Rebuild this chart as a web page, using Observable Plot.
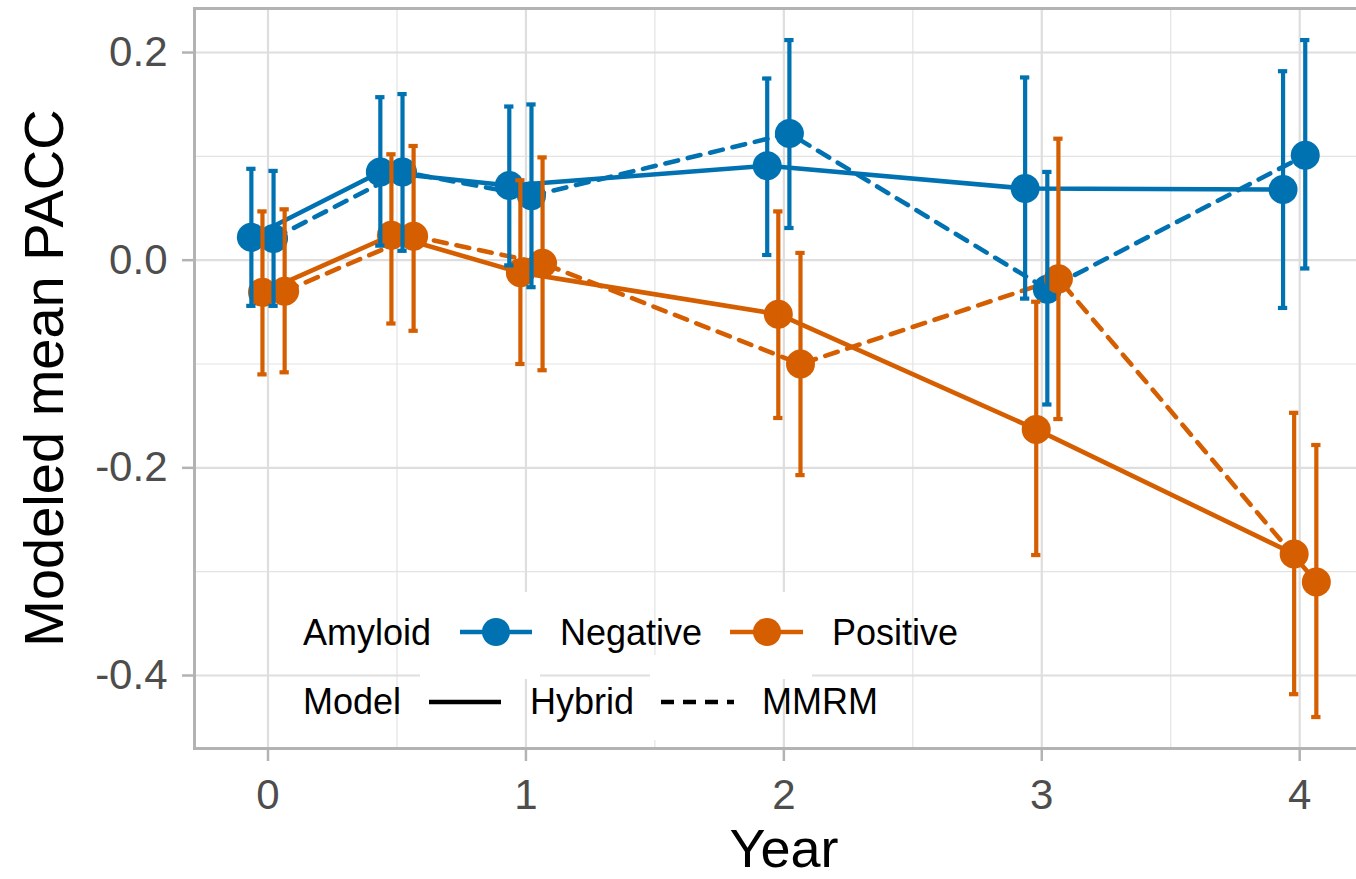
<!DOCTYPE html>
<html>
<head>
<meta charset="utf-8">
<script src="https://cdn.jsdelivr.net/npm/d3@7"></script>
<script src="https://cdn.jsdelivr.net/npm/@observablehq/plot@0.6"></script>
<style>
  body { margin: 0; background: #fff; overflow: hidden; }
  #chart { position: relative; width: 1356px; height: 879px; }
</style>
</head>
<body>
<div id="chart"></div>
<script>
// ---- Data ----
const years = [0, 0.5, 1, 2, 3, 4];
const amyloidLevels = ["Negative", "Positive"];
const modelLevels = ["Hybrid", "MMRM"];
const amyloidColors = ["#0072B2", "#D55E00"];

const negHybridMean = [0.022, 0.085, 0.072, 0.091, 0.069, 0.068];
const negHybridLo   = [-0.044, 0.014, -0.005, 0.005, -0.037, -0.046];
const negHybridHi   = [0.088, 0.157, 0.148, 0.175, 0.176, 0.182];

const negMMRMMean = [0.021, 0.085, 0.062, 0.122, -0.028, 0.101];
const negMMRMLo   = [-0.044, 0.009, -0.026, 0.031, -0.139, -0.008];
const negMMRMHi   = [0.086, 0.160, 0.150, 0.212, 0.085, 0.212];

const posHybridMean = [-0.031, 0.024, -0.012, -0.052, -0.163, -0.283];
const posHybridLo   = [-0.110, -0.061, -0.100, -0.152, -0.284, -0.418];
const posHybridHi   = [0.047, 0.102, 0.077, 0.047, -0.040, -0.147];

const posMMRMMean = [-0.030, 0.023, -0.003, -0.100, -0.018, -0.310];
const posMMRMLo   = [-0.108, -0.068, -0.106, -0.207, -0.153, -0.440];
const posMMRMHi   = [0.049, 0.110, 0.099, 0.007, 0.117, -0.178];

const xTicks = [0, 1, 2, 3, 4];
const xMinorTicks = [0.5, 1.5, 2.5, 3.5];
const yTicks = [-0.4, -0.2, 0, 0.2];
const yMinorTicks = [-0.3, -0.1, 0.1];

// ---- Build table (dodged like ggplot position_dodge) ----
const seriesList = [
  {amyloid: "Negative", model: "Hybrid", mean: negHybridMean, lo: negHybridLo, hi: negHybridHi},
  {amyloid: "Positive", model: "Hybrid", mean: posHybridMean, lo: posHybridLo, hi: posHybridHi},
  {amyloid: "Negative", model: "MMRM",   mean: negMMRMMean,   lo: negMMRMLo,   hi: negMMRMHi},
  {amyloid: "Positive", model: "MMRM",   mean: posMMRMMean,   lo: posMMRMLo,   hi: posMMRMHi}
];
const dodgeWidth = 0.172;
const capHalf = 0.018;
const rows = [];
seriesList.forEach((s, i) => {
  const off = (i - (seriesList.length - 1) / 2) * dodgeWidth / seriesList.length;
  years.forEach((yr, j) => {
    rows.push({
      amyloid: s.amyloid, model: s.model, key: s.amyloid + "-" + s.model, order: i,
      year: yr, xd: yr + off, mean: s.mean[j], lo: s.lo[j], hi: s.hi[j]
    });
  });
});
const hybridRows = rows.filter(d => d.model === "Hybrid");
const mmrmRows = rows.filter(d => d.model === "MMRM");
const ebRows = rows.slice().sort((a, b) => (a.amyloid === b.amyloid ? a.order - b.order : (a.amyloid === "Negative" ? -1 : 1)));

const W = 1356, H = 879;
const FONT = "'Liberation Sans', Arial, Helvetica, sans-serif";

const plot = Plot.plot({
  width: W,
  height: H,
  marginLeft: 194,
  marginTop: 8,
  marginBottom: 131,
  marginRight: -18,
  style: {fontFamily: FONT, background: "white", overflow: "hidden"},
  x: {domain: [-0.285, 4.29], label: null},
  y: {domain: [-0.4703, 0.2424], label: null},
  color: {domain: amyloidLevels, range: amyloidColors},
  marks: [
    Plot.gridX(xMinorTicks, {stroke: "#E3E3E3", strokeOpacity: 1, strokeWidth: 1.2}),
    Plot.gridY(yMinorTicks, {stroke: "#E3E3E3", strokeOpacity: 1, strokeWidth: 1.2}),
    Plot.gridX(xTicks, {stroke: "#DEDEDE", strokeOpacity: 1, strokeWidth: 2.2}),
    Plot.gridY(yTicks, {stroke: "#DEDEDE", strokeOpacity: 1, strokeWidth: 2.2}),
    Plot.axisY({ticks: yTicks, tickSize: 12, stroke: "#B3B3B3", strokeWidth: 2.5, tickFormat: () => "", label: null}),
    Plot.axisY({ticks: yTicks, tickSize: 0, tickPadding: 27, fill: "#4D4D4D", fontSize: 42, tickFormat: d => d.toFixed(1), label: null}),
    Plot.axisX({ticks: xTicks, tickSize: 13, stroke: "#B3B3B3", strokeWidth: 2.5, tickFormat: () => "", label: null}),
    Plot.axisX({ticks: xTicks, tickSize: 0, tickPadding: 31, fill: "#4D4D4D", fontSize: 42, tickFormat: d => String(d), label: null}),
    Plot.line(hybridRows, {x: "xd", y: "mean", z: "key", stroke: "amyloid", strokeWidth: 4.6}),
    Plot.line(mmrmRows, {x: "xd", y: "mean", z: "key", stroke: "amyloid", strokeWidth: 4.6, strokeDasharray: "13,10"}),
    Plot.dot(rows, {x: "xd", y: "mean", r: 14.5, fill: "amyloid", stroke: null}),
    Plot.ruleX(ebRows, {x: "xd", y1: "lo", y2: "hi", stroke: "amyloid", strokeWidth: 4.2}),
    Plot.ruleY(ebRows, {y: "lo", x1: d => d.xd - capHalf, x2: d => d.xd + capHalf, stroke: "amyloid", strokeWidth: 4.2}),
    Plot.ruleY(ebRows, {y: "hi", x1: d => d.xd - capHalf, x2: d => d.xd + capHalf, stroke: "amyloid", strokeWidth: 4.2}),
    Plot.frame({stroke: "#B3B3B3", strokeWidth: 3})
  ]
});

document.getElementById("chart").appendChild(plot);

// ---- Axis titles & in-panel legend (overlay on same SVG) ----
const svg = d3.select(plot);
const g = svg.append("g").attr("font-family", FONT).attr("text-anchor", "start").attr("fill", "#000");

g.append("text").attr("x", 784).attr("y", 867).attr("text-anchor", "middle")
  .attr("font-size", 54).text("Year");
g.append("text").attr("transform", "translate(63,378) rotate(-90)").attr("text-anchor", "middle")
  .attr("font-size", 56).text("Modeled mean PACC");

// legend key backgrounds (white)
[[420, 592, 120, 87], [690, 592, 122, 87], [650, 655, 95, 85], [420, 674, 92, 66]].forEach(([x, y, w, h]) => {
  g.append("rect").attr("x", x).attr("y", y).attr("width", w).attr("height", h).attr("fill", "#fff");
});

const legFont = 36;
g.append("text").attr("x", 303).attr("y", 645).attr("font-size", legFont).text("Amyloid");
const ampKeys = [{x1: 460, x2: 532, cx: 496, tx: 560}, {x1: 730, x2: 803, cx: 767, tx: 832}];
amyloidLevels.forEach((lvl, i) => {
  const k = ampKeys[i];
  g.append("line").attr("x1", k.x1).attr("x2", k.x2).attr("y1", 632).attr("y2", 632)
    .attr("stroke", amyloidColors[i]).attr("stroke-width", 4.6);
  g.append("circle").attr("cx", k.cx).attr("cy", 632).attr("r", 14).attr("fill", amyloidColors[i]);
  g.append("text").attr("x", k.tx).attr("y", 645).attr("font-size", legFont).text(lvl);
});
g.append("text").attr("x", 303).attr("y", 714).attr("font-size", legFont).text("Model");
const modKeys = [{x1: 429, x2: 501, tx: 530, dash: null}, {x1: 661, x2: 734, tx: 762, dash: "13,9"}];
modelLevels.forEach((lvl, i) => {
  const k = modKeys[i];
  const ln = g.append("line").attr("x1", k.x1).attr("x2", k.x2).attr("y1", 702).attr("y2", 702)
    .attr("stroke", "#000").attr("stroke-width", 4.6);
  if (k.dash) ln.attr("stroke-dasharray", k.dash);
  g.append("text").attr("x", k.tx).attr("y", 714).attr("font-size", legFont).text(lvl);
});
</script>
</body>
</html>
